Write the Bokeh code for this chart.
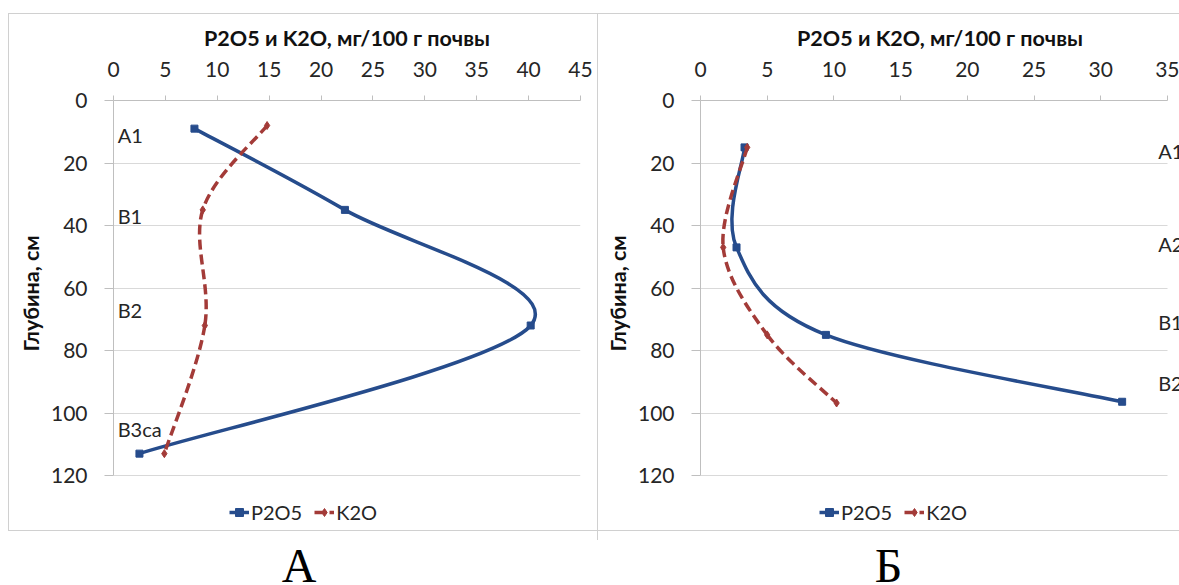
from bokeh.plotting import figure
from bokeh.models import (Range1d, FixedTicker, ColumnDataSource, LabelSet,
                          Legend, LegendItem, Div, Title)
from bokeh.layouts import row, column
from bokeh.core.properties import value
from bokeh.embed import file_html
from bokeh.resources import INLINE

# ---------------- data ----------------
# Panel A
depth_A = [9, 35, 72, 113]
p2o5_A = [7.8, 22.3, 40.2, 2.5]
k2o_depth_A = [8, 35, 72, 113]
k2o_A = [14.8, 8.6, 8.8, 4.9]
horizons_A = ["A1", "B1", "B2", "B3ca"]
horizon_depth_A = [11, 37, 67, 105]

# Panel Б
depth_B = [15, 47, 75, 96.4]
p2o5_B = [3.3, 2.7, 9.4, 31.6]
k2o_depth_B = [15, 47, 75, 96.8]
k2o_B = [3.5, 1.7, 5.0, 10.2]
horizons_B = ["A1", "A2", "B1", "B2"]
horizon_depth_B = [16, 46, 71, 90.5]

x_ticks_A = [0, 5, 10, 15, 20, 25, 30, 35, 40, 45]
x_ticks_B = [0, 5, 10, 15, 20, 25, 30, 35]
y_ticks = [0, 20, 40, 60, 80, 100, 120]

x_title = "P2O5 и K2O, мг/100 г почвы"
y_title = "Глубина, см"
series_names = ["P2O5", "K2O"]
panel_letters = ["А", "Б"]

BLUE = "#264C8C"
RED = "#A33B38"
FONT = "Lato"
GRID = "#D9D9D9"
AXIS = "#BFBFBF"
BOX = "#D0D0D0"
TXT = "#262626"
FIG_H = 540
PX_PER_CM = 375 / 120          # vertical scale of the depth axis
Y_VIEW = 120 + (FIG_H - 475) / PX_PER_CM   # frame reaches the bottom of the chart box


def smooth(xs, ys):
    """Bezier segments for a smoothed line through the points (Excel-like)."""
    n = len(xs)
    d = dict(x0=[], y0=[], x1=[], y1=[], cx0=[], cy0=[], cx1=[], cy1=[])
    for i in range(n - 1):
        xm, ym = (xs[i - 1], ys[i - 1]) if i > 0 else (xs[i], ys[i])
        xp, yp = (xs[i + 2], ys[i + 2]) if i + 2 < n else (xs[i + 1], ys[i + 1])
        d["x0"].append(xs[i]); d["y0"].append(ys[i])
        d["x1"].append(xs[i + 1]); d["y1"].append(ys[i + 1])
        d["cx0"].append(xs[i] + (xs[i + 1] - xm) / 6)
        d["cy0"].append(ys[i] + (ys[i + 1] - ym) / 6)
        d["cx1"].append(xs[i + 1] - (xp - xs[i]) / 6)
        d["cy1"].append(ys[i + 1] - (yp - ys[i]) / 6)
    return ColumnDataSource(d)


def css_line(x, y, w, h):
    return f"linear-gradient({BOX}, {BOX}) {x}px {y}px / {w}px {h}px no-repeat"


def make_panel(width, xmax, xview, xticks, border_left, border_right,
               p_x, p_y, k_x, k_y, hz, hz_y, hz_x, legend_x, box_css, ytitle_standoff):
    p = figure(width=width, height=FIG_H, x_range=Range1d(0, xview),
               y_range=Range1d(Y_VIEW, 0),
               x_axis_location="above", output_backend="svg", toolbar_location=None,
               min_border_left=border_left, min_border_right=border_right,
               min_border_top=100, min_border_bottom=0)
    p.outline_line_color = None
    p.background_fill_color = None
    p.border_fill_color = None
    p.styles = {"background": box_css}

    # axes
    xa = p.xaxis[0]
    xa.ticker = FixedTicker(ticks=xticks)
    xa.axis_label = x_title
    xa.bounds = (0, xmax)
    ya = p.yaxis[0]
    ya.ticker = FixedTicker(ticks=y_ticks)
    ya.bounds = (0, 120)
    for ax in (xa, ya):
        ax.axis_line_color = AXIS
        ax.major_tick_line_color = AXIS
        ax.minor_tick_line_color = None
        ax.major_tick_in = 0
        ax.major_label_text_font = FONT
        ax.major_label_text_font_size = "21px"
        ax.major_label_text_color = TXT
        ax.axis_label_text_font = FONT
        ax.axis_label_text_font_size = "21.5px"
        ax.axis_label_text_font_style = "bold"
        ax.axis_label_text_color = "#111111"
    xa.major_tick_out = 5
    xa.major_label_standoff = 19
    xa.axis_label_standoff = 8
    ya.major_tick_out = 9
    ya.major_label_standoff = 17
    p.xgrid.grid_line_color = None
    g = p.ygrid[0]
    g.grid_line_color = GRID
    g.ticker = FixedTicker(ticks=y_ticks)
    try:
        g.cross_bounds = (0, xmax)
    except AttributeError:
        pass

    # depth axis title, centred on the 0..120 part of the axis
    p.add_layout(Title(text=y_title, align="left", offset=189, standoff=ytitle_standoff,
                       text_font=FONT, text_font_size="21.5px", text_font_style="bold",
                       text_color="#111111"), "left")

    # series
    rp = p.bezier(x0="x0", y0="y0", x1="x1", y1="y1", cx0="cx0", cy0="cy0", cx1="cx1",
                  cy1="cy1", source=smooth(p_x, p_y), line_color=BLUE, line_width=3.5)
    sp = p.scatter(p_x, p_y, marker="square", size=7, fill_color=BLUE, line_color=BLUE)
    rk = p.bezier(x0="x0", y0="y0", x1="x1", y1="y1", cx0="cx0", cy0="cy0", cx1="cx1",
                  cy1="cy1", source=smooth(k_x, k_y), line_color=RED, line_width=3.5,
                  line_dash="10 5")
    sk = p.scatter(k_x, k_y, marker="diamond", size=8, fill_color=RED, line_color=RED)

    # horizons
    src = ColumnDataSource(dict(x=[hz_x] * len(hz), y=hz_y, t=hz))
    p.add_layout(LabelSet(x="x", y="y", text="t", source=src, text_font=value(FONT),
                          text_font_size="20px", text_color=TXT, text_baseline="middle",
                          text_align="left"))

    legend = Legend(items=[LegendItem(label=series_names[0], renderers=[rp, sp]),
                           LegendItem(label=series_names[1], renderers=[rk, sk])],
                    location=(legend_x, 16), orientation="horizontal",
                    background_fill_alpha=0, border_line_color=None,
                    label_text_font=FONT, label_text_font_size="20px",
                    label_text_color=TXT, glyph_width=20, label_standoff=2,
                    spacing=12, padding=2, margin=0)
    p.add_layout(legend, "center")
    return p


box_A = ", ".join([css_line(8, 13, 590, 1), css_line(8, 530, 590, 1),
                   css_line(8, 13, 1, 518), css_line(597, 13, 1, 527)])
box_B = ", ".join([css_line(0, 13, 581, 1), css_line(0, 530, 581, 1)])

pA = make_panel(598, 45, 45, x_ticks_A, 113, 18, p2o5_A, depth_A, k2o_A, k2o_depth_A,
                horizons_A, horizon_depth_A, 0.4, 116, box_A, 8)
pB = make_panel(581, 35, 479 / 13.343, x_ticks_B, 102, 0, p2o5_B, depth_B, k2o_B, k2o_depth_B,
                horizons_B, horizon_depth_B, 34.3, 119, box_B, 8)


def letter_div(txt, w):
    html = ("<div style=\"font-family:'Liberation Serif',serif;font-size:48px;"
            "line-height:38px;margin-top:7px;text-align:center;color:#000;\">"
            f"{txt}</div>")
    return Div(text=html, width=w, height=45, margin=0,
               styles={"width": f"{w}px", "text-align": "center"})


dA = letter_div(panel_letters[0], 598)
dB = letter_div(panel_letters[1], 581)

layout = column(row(pA, pB, spacing=0), row(dA, dB, spacing=0), spacing=0)
open("out.html", "w").write(file_html(layout, INLINE))
